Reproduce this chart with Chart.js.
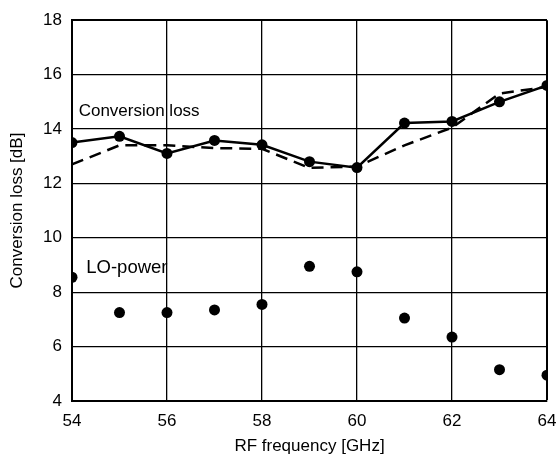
<!DOCTYPE html>
<html>
<head>
<meta charset="utf-8">
<script src="https://cdn.jsdelivr.net/npm/chart.js@4/dist/chart.umd.min.js"></script>
<style>
    html, body { margin: 0; padding: 0; background: #fff; }
    #wrap { width: 558px; height: 458px; }
</style>
</head>
<body>
<div id="wrap"><canvas id="lossChart"></canvas></div>
<script>
// RF frequency points [GHz]
const freqs = [54, 55, 56, 57, 58, 59, 60, 61, 62, 63, 64];
// measured conversion loss [dB]
const lossMeasured = [13.5, 13.73, 13.1, 13.58, 13.42, 12.8, 12.58, 14.22, 14.28, 15.0, 15.6];
// simulated conversion loss [dB] (dashed)
const lossSimulated = [12.7, 13.4, 13.4, 13.3, 13.27, 12.57, 12.62, 13.4, 14.05, 15.3, 15.55];
// LO power [dBm]
const loPower = [8.55, 7.25, 7.25, 7.35, 7.55, 8.95, 8.75, 7.05, 6.35, 5.15, 4.95];

const xTicks = [54, 56, 58, 60, 62, 64];
const yTicks = [4, 6, 8, 10, 12, 14, 16, 18];

// in-plot labels, placed in data coordinates
const notes = [
    { text: 'Conversion loss', x: 54.14, y: 14.64, size: 17 },
    { text: 'LO-power', x: 54.3, y: 8.9, size: 18.5 }
];

const FONT = "'Liberation Sans', Arial, sans-serif";

const toXY = (xs, ys) => xs.map((x, i) => ({ x: x, y: ys[i] }));

const notePlugin = {
    id: 'notes',
    afterDatasetsDraw(chart) {
        const ctx = chart.ctx;
        const xs = chart.scales.x, ys = chart.scales.y;
        ctx.save();
        ctx.fillStyle = '#000';
        ctx.textAlign = 'left';
        ctx.textBaseline = 'middle';
        notes.forEach(n => {
            ctx.font = n.size + 'px ' + FONT;
            ctx.fillText(n.text, xs.getPixelForValue(n.x), ys.getPixelForValue(n.y));
        });
        ctx.restore();
    }
};

const ctx = document.getElementById('lossChart').getContext('2d');
const lossChart = new Chart(ctx, {
    type: 'line',
    data: {
        datasets: [
            {
                label: 'Conversion loss',
                data: toXY(freqs, lossMeasured),
                borderColor: '#000',
                backgroundColor: '#000',
                borderWidth: 2.5,
                pointRadius: 5.5,
                pointBorderWidth: 0,
                tension: 0
            },
            {
                label: 'Conversion loss (sim)',
                data: toXY(freqs, lossSimulated),
                borderColor: '#000',
                borderWidth: 2.5,
                borderDash: [12, 7],
                pointRadius: 0,
                tension: 0
            },
            {
                label: 'LO-power',
                data: toXY(freqs, loPower),
                showLine: false,
                backgroundColor: '#000',
                borderColor: '#000',
                pointRadius: 5.5,
                pointBorderWidth: 0
            }
        ]
    },
    options: {
        responsive: true,
        maintainAspectRatio: false,
        animation: false,
        layout: { padding: { top: 17, right: 11, left: 0, bottom: 0 } },
        plugins: {
            legend: { display: false },
            tooltip: { enabled: false }
        },
        scales: {
            x: {
                type: 'linear',
                min: 54,
                max: 64,
                afterFit: s => {
                    s.height = 57;
                    // let the last tick label hang over the edge
                    s.paddingLeft = 0;
                    s.paddingRight = 0;
                },
                afterBuildTicks: s => { s.ticks = xTicks.map(v => ({ value: v })); },
                grid: {
                    color: '#000',
                    lineWidth: c => (c.tick && (c.tick.value === 64)) ? 2 : 1.3,
                    drawTicks: false
                },
                border: { color: '#000', width: 2 },
                ticks: {
                    color: '#000',
                    padding: 10,
                    font: { family: FONT, size: 17 }
                },
                title: {
                    display: true,
                    text: 'RF frequency [GHz]',
                    color: '#000',
                    padding: { top: 0, bottom: 1 },
                    font: { family: FONT, size: 17 }
                }
            },
            y: {
                min: 4,
                max: 18,
                afterFit: s => { s.width = 72; },
                afterBuildTicks: s => { s.ticks = yTicks.map(v => ({ value: v })); },
                grid: {
                    color: '#000',
                    lineWidth: c => (c.tick && (c.tick.value === 18)) ? 2 : 1.3,
                    drawTicks: false
                },
                border: { color: '#000', width: 2 },
                ticks: {
                    color: '#000',
                    padding: 10,
                    font: { family: FONT, size: 17 }
                },
                title: {
                    display: true,
                    text: 'Conversion loss [dB]',
                    color: '#000',
                    padding: { top: 7, bottom: 0 },
                    font: { family: FONT, size: 17 }
                }
            }
        }
    },
    plugins: [notePlugin]
});
</script>
</body>
</html>
